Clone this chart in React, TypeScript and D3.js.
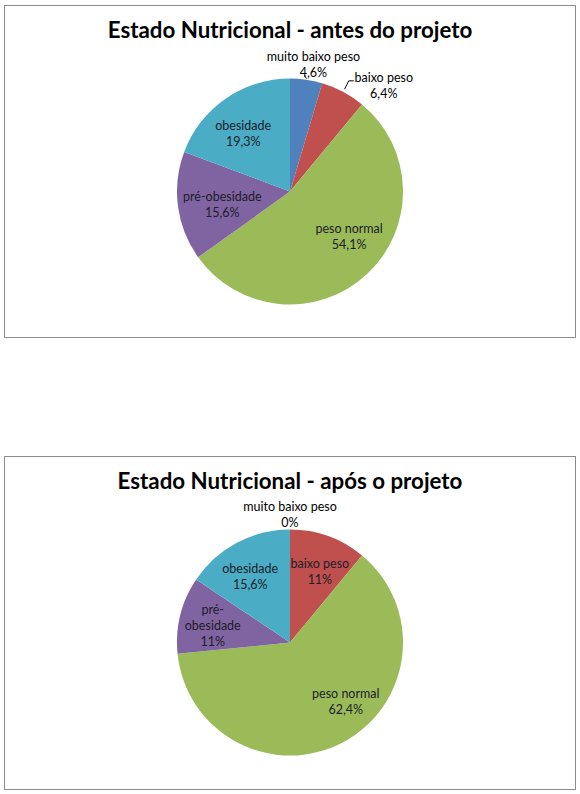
import * as d3 from "d3";

const width = 580;
const height = 794;

const categories = [
  "muito baixo peso",
  "baixo peso",
  "peso normal",
  "pré-obesidade",
  "obesidade",
];
const beforeValues = [4.6, 6.4, 54.1, 15.6, 19.3];
const afterValues = [0, 11, 62.4, 11, 15.6];
const beforeTitle = "Estado Nutricional - antes do projeto";
const afterTitle = "Estado Nutricional - após o projeto";

const colors = ["#4f81bd", "#c0504d", "#9bbb59", "#8064a2", "#4bacc6"];

// posição dos rótulos: fator do raio e desvio do ângulo (graus)
type LabelLayout = { r: number; da: number; wrap?: boolean; leader?: "tick" | "elbow" };

const beforeLayout: LabelLayout[] = [
  { r: 1.14, da: 2.2, leader: "tick" },
  { r: 1.25, da: 13.5, leader: "elbow" },
  { r: 0.66, da: -9.4 },
  { r: 0.61, da: -3.2 },
  { r: 0.66, da: -4.1 },
];
const afterLayout: LabelLayout[] = [
  { r: 1.13, da: 0 },
  { r: 0.68, da: 3.1 },
  { r: 0.72, da: -15.2 },
  { r: 0.7, da: -1.6, wrap: true },
  { r: 0.68, da: -3.1 },
];

const radius = 113;
const lineHeight = 16;
const labelFont = "Lato, 'Open Sans', sans-serif";

const formatPct = (v: number) => `${String(v).replace(".", ",")}%`;

function PieChart({
  top,
  boxHeight,
  title,
  values,
  layout,
}: {
  top: number;
  boxHeight: number;
  title: string;
  values: number[];
  layout: LabelLayout[];
}) {
  const cx = width / 2;
  const cy = top + 186.5;

  const pie = d3
    .pie<number>()
    .sort(null)
    .value((d) => d);
  const arcs = pie(values);
  const arc = d3.arc<d3.PieArcDatum<number>>().innerRadius(0).outerRadius(radius);

  const polar = (angle: number, r: number): [number, number] => [
    cx + r * Math.sin(angle),
    cy - r * Math.cos(angle),
  ];

  return (
    <g>
      <rect
        x={4.5}
        y={top + 0.5}
        width={571}
        height={boxHeight}
        fill="#fff"
        stroke="#8c8c8c"
        strokeWidth={1}
      />
      <text
        x={cx}
        y={top + 33}
        textAnchor="middle"
        fontFamily={labelFont}
        fontWeight={700}
        fontSize={22.3}
        fill="#000"
      >
        {title}
      </text>
      <g transform={`translate(${cx},${cy})`}>
        {arcs.map((a, i) =>
          a.endAngle > a.startAngle ? (
            <path key={i} d={arc(a) ?? ""} fill={colors[i]} />
          ) : null,
        )}
      </g>
      {arcs.map((a, i) => {
        const l = layout[i];
        const mid = (a.startAngle + a.endAngle) / 2;
        const [lx, ly] = polar(mid + (l.da * Math.PI) / 180, l.r * radius);
        const name = categories[i];
        const nameLines = l.wrap ? name.replace("-", "-\n").split("\n") : [name];
        const lines = [...nameLines, formatPct(values[i])];
        const n = lines.length;
        const outside = l.r > 1;
        let leader: string | null = null;
        if (l.leader === "tick") {
          const [x0, y0] = polar(mid, radius + 1);
          const [x1, y1] = polar(mid - 0.02, radius + 4);
          leader = `M${x0},${y0}L${x1},${y1}`;
        } else if (l.leader === "elbow") {
          const [x0, y0] = polar(mid, radius + 3);
          const ex = lx - 30;
          const ey = ly - 5;
          leader = `M${x0},${y0}L${ex - 5},${ey}L${ex},${ey}`;
        }
        return (
          <g key={i}>
            {leader && (
              <path d={leader} fill="none" stroke="#000" strokeWidth={1} />
            )}
            {lines.map((t, j) => (
              <text
                key={j}
                x={lx}
                y={ly + (j - (n - 1) / 2) * lineHeight}
                textAnchor="middle"
                dominantBaseline="central"
                fontFamily={labelFont}
                fontSize={12.5}
                fill={outside ? "#000" : "#1c1c2a"}
              >
                {t}
              </text>
            ))}
          </g>
        );
      })}
    </g>
  );
}

export default function App() {
  return (
    <div style={{ position: "absolute", left: 0, top: 0, background: "#fff" }}>
      <svg width={width} height={height} viewBox={`0 0 ${width} ${height}`}>
        <rect width={width} height={height} fill="#fff" />
        <PieChart
          top={5}
          boxHeight={332}
          title={beforeTitle}
          values={beforeValues}
          layout={beforeLayout}
        />
        <PieChart
          top={456}
          boxHeight={333}
          title={afterTitle}
          values={afterValues}
          layout={afterLayout}
        />
      </svg>
    </div>
  );
}
